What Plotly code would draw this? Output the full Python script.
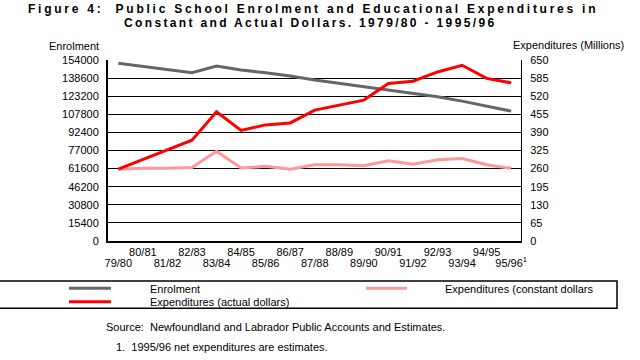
import plotly.graph_objects as go

years = ["79/80", "80/81", "81/82", "82/83", "83/84", "84/85", "85/86", "86/87", "87/88",
         "88/89", "89/90", "90/91", "91/92", "92/93", "93/94", "94/95", "95/96"]
enrolment = [151200, 148600, 146000, 143200, 148900, 145500, 143200, 140400, 136900,
             134100, 131200, 128400, 126100, 122700, 119000, 114700, 110500]
exp_actual = [258, 292, 328, 362, 464, 397, 417, 424, 470, 487, 506, 566, 574, 607, 631, 584, 568]
exp_constant = [258, 261, 261, 264, 322, 262, 268, 258, 274, 274, 270, 288, 276, 292, 296, 274, 261]
left_ticks = [0, 15400, 30800, 46200, 61600, 77000, 92400, 107800, 123200, 138600, 154000]
right_ticks = [0, 65, 130, 195, 260, 325, 390, 455, 520, 585, 650]

FONT = "Liberation Sans, Arial, sans-serif"
GRAY, RED, PINK = "#666666", "#ff0000", "#ff9999"

W, H = 640, 360
L, R, T, B = 108, 119, 60, 119
PW, PH = W - L - R, H - T - B


def px(x):
    return (x - L) / PW


def py(y):
    return (H - B - y) / PH


upper_vals = [y for i, y in enumerate(years) if i % 2 == 1]
lower_vals = [y for i, y in enumerate(years) if i % 2 == 0]
lower_text = [y + ("<sup>1</sup>" if y == years[-1] else "") for y in lower_vals]

fig = go.Figure()
fig.add_trace(go.Scatter(x=years, y=enrolment, mode="lines", name="Enrolment",
                         line=dict(color=GRAY, width=3), yaxis="y"))
fig.add_trace(go.Scatter(x=years, y=exp_constant, mode="lines", name="Expenditures (constant dollars",
                         line=dict(color=PINK, width=3), yaxis="y2"))
fig.add_trace(go.Scatter(x=years, y=exp_actual, mode="lines", name="Expenditures (actual dollars)",
                         line=dict(color=RED, width=3), yaxis="y2"))

xr = [-0.42, 16.4]
fig.update_layout(
    width=W, height=H,
    margin=dict(l=L, r=R, t=T, b=B, autoexpand=False),
    paper_bgcolor="white", plot_bgcolor="white",
    font=dict(family=FONT, size=11, color="black"),
    showlegend=False,
    xaxis=dict(type="category", categoryarray=years, range=xr, tickmode="array",
               tickvals=upper_vals, ticktext=upper_vals, showgrid=False, tickangle=0,
               showline=True, linecolor="black", linewidth=2, ticks="",
               automargin=False, ticklabelstandoff=0),
    xaxis2=dict(type="category", categoryarray=years, range=xr, overlaying="x",
                anchor="y", side="bottom", matches="x", tickmode="array",
                tickvals=lower_vals, ticktext=lower_text, showgrid=False, tickangle=0,
                showline=False, ticks="", automargin=False, ticklabelstandoff=14),
    yaxis=dict(range=[0, 154000], tickvals=left_ticks, tickformat="d",
               showgrid=True, gridcolor="black", gridwidth=1, automargin=False,
               showline=True, linecolor="black", linewidth=2, ticks="",
               zeroline=False, ticklabelstandoff=5),
    yaxis2=dict(range=[0, 650], tickvals=right_ticks, overlaying="y", side="right",
                showgrid=False, showline=True, linecolor="black", linewidth=1,
                ticks="", zeroline=False, ticklabelstandoff=6, automargin=False),
)
# invisible helper trace so the second category axis is drawn
fig.add_trace(go.Scatter(x=years, y=enrolment, xaxis="x2", yaxis="y", mode="lines",
                         line=dict(width=0), hoverinfo="skip", showlegend=False, opacity=0))

annots = [
    dict(text='<b><span style="letter-spacing:2.75px">Figure 4:  Public School Enrolment and '
              'Educational Expenditures in</span></b>',
         x=px(313), y=py(8.7), xanchor="center", yanchor="middle",
         font=dict(size=12, family=FONT)),
    dict(text='<b><span style="letter-spacing:2.35px">Constant and Actual Dollars. '
              '1979/80 - 1995/96</span></b>',
         x=px(310), y=py(22.8), xanchor="center", yanchor="middle",
         font=dict(size=12, family=FONT)),
    dict(text="Enrolment", x=px(47), y=py(46.3), xanchor="left", yanchor="middle"),
    dict(text="Expenditures (Millions)", x=px(511), y=py(45.3), xanchor="left", yanchor="middle"),
    dict(text="Enrolment", x=px(148), y=py(288.5), xanchor="left", yanchor="middle"),
    dict(text="Expenditures (constant dollars", x=px(443), y=py(288.5), xanchor="left", yanchor="middle"),
    dict(text="Expenditures (actual dollars)", x=px(148), y=py(301.5), xanchor="left", yanchor="middle"),
    dict(text="Source:  Newfoundland and Labrador Public Accounts and Estimates.",
         x=px(104), y=py(327), xanchor="left", yanchor="middle"),
    dict(text="1.  1995/96 net expenditures are estimates.",
         x=px(114), y=py(347.3), xanchor="left", yanchor="middle"),
]
for a in annots:
    a.update(xref="paper", yref="paper", showarrow=False)
    a.setdefault("font", dict(size=11, family=FONT))
    fig.add_annotation(**a)

shapes = [
    dict(type="rect", x0=px(-5), x1=px(617), y0=py(308.3), y1=py(281),
         line=dict(color="black", width=1.5)),
    dict(type="line", x0=px(69), x1=px(111), y0=py(288.3), y1=py(288.3),
         line=dict(color=GRAY, width=3)),
    dict(type="line", x0=px(366), x1=px(407), y0=py(288.3), y1=py(288.3),
         line=dict(color=PINK, width=3)),
    dict(type="line", x0=px(69), x1=px(111), y0=py(301.7), y1=py(301.7),
         line=dict(color=RED, width=3)),
]
for s in shapes:
    s.update(xref="paper", yref="paper")
    fig.add_shape(**s)

fig.write_html("out.html", config={"displayModeBar": False},
               post_script="document.body.style.margin='0';")
